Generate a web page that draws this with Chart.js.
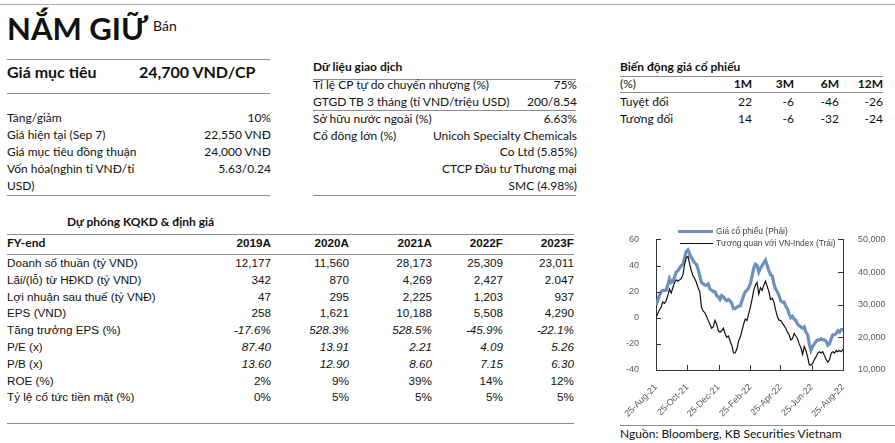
<!DOCTYPE html>
<html>
<head>
<meta charset="utf-8">
<script src="https://cdn.jsdelivr.net/npm/chart.js@4.4.0/dist/chart.umd.min.js"></script>
<style>
    body { margin: 0; width: 895px; height: 443px; position: relative; overflow: hidden; background: #fff; font-family: Lato, 'Open Sans', sans-serif; color: #111; }
    .a { position: absolute; white-space: nowrap; font-size: 12px; line-height: 16px; }
    .b { font-weight: bold; }
    .i { font-style: italic; }
    .tb { font-family: 'Liberation Sans', Arial, sans-serif; font-size: 11.7px; }
    .hr { position: absolute; height: 0; border-top: 1px solid #8c8c8c; }
    #chartBox { position: absolute; left: 620px; top: 225px; width: 275px; height: 200px; }
    .lg { position: absolute; font-family: 'Liberation Sans', Arial, sans-serif; font-size: 8.4px; color: #404040; line-height: 10px; white-space: nowrap; }
    .lgLine { position: absolute; }
</style>
</head>
<body>
<div class="hr" style="left:0;width:895px;top:4px;border-color:#aaa"></div>
<div class="a b" style="left:7px;top:12px;font-size:31px;line-height:32px;">NẮM GIỮ</div>
<div class="a" style="left:153px;top:18px;font-size:14px;">Bán</div>

<div id="chartBox"><canvas id="priceChart" width="275" height="200"></canvas></div>
<div class="lgLine" style="left:678px;top:230px;width:35px;height:3px;background:#6f8fbd"></div>
<div class="lg" style="left:716px;top:226px;">Giá cổ phiếu (Phải)</div>
<div class="lgLine" style="left:680px;top:243px;width:33px;height:1px;background:#111"></div>
<div class="lg" style="left:716px;top:238px;">Tương quan với VN-Index (Trái)</div>

<script>
// Chart data
const tickDays = [0, 61, 122, 184, 243, 304, 365];
const tickLabels = ['25-Aug-21', '25-Oct-21', '25-Dec-21', '25-Feb-22', '25-Apr-22', '25-Jun-22', '25-Aug-22'];

// Giá cổ phiếu (VND) - right axis
const sharePrice = [
    30000, 31200, 32800, 34000, 34400, 34400, 34400, 36000, 38000, 36800,
    37200, 38400, 40000, 40400, 41200, 42000, 42400, 44400, 46400, 46800,
    45600, 44400, 43600, 42800, 42400, 40800, 38800, 36800, 36400, 36000,
    36000, 36400, 34800, 34400, 34000, 34000, 32800, 32400, 31600, 32800,
    32400, 31600, 31200, 31600, 31200, 30400, 28800, 28800, 29200, 29600,
    29600, 31200, 32800, 34000, 34400, 35200, 36400, 38800, 41200, 42400,
    42000, 40000, 41200, 42000, 42800, 43600, 42000, 40400, 39200, 38800,
    36400, 34800, 34000, 32800, 31200, 30800, 30800, 29600, 28800, 27200,
    26000, 26400, 25600, 25200, 24000, 23600, 23200, 22800, 23200, 21600,
    20800, 18000, 16000, 17200, 18000, 18800, 19200, 19200, 19600, 19200,
    19200, 18800, 17600, 18000, 19600, 20800, 20800, 21200, 22000, 21600,
    22400, 22400
];

// Tương quan với VN-Index (%) - left axis
const relPerformance = [
    0, 3, 6, 8, 12, 11, 13, 17, 22, 19,
    23, 27, 29, 28, 29, 30, 33, 41, 46, 47,
    41, 36, 32, 30, 27, 23, 20, 8, 5, 4,
    1, -2, -5, -8, -7, -2, -5, -10, -11, -10,
    -8, -12, -15, -14, -18, -21, -27, -27, -24, -18,
    -15, -10, -5, -1, -2, 3, 8, 14, 21, 25,
    27, 18, 23, 21, 25, 28, 24, 20, 14, 15,
    12, 6, 1, -2, -2, -4, -6, -8, -11, -13,
    -17, -16, -12, -14, -16, -20, -23, -28, -22, -25,
    -30, -36, -36, -35, -32, -30, -27, -26, -27, -26,
    -29, -32, -34, -32, -27, -26, -27, -25, -26, -25,
    -26, -24
];

// Table texts
const summaryRows = [
    ['Tăng/giảm', '10%'],
    ['Giá hiện tại (Sep 7)', '22,550 VNĐ'],
    ['Giá mục tiêu đồng thuận', '24,000 VNĐ'],
    ['Vốn hóa(nghìn tỉ VNĐ/tỉ', '5.63/0.24'],
    ['USD)', '']
];
const tradingRows = [
    ['Tỉ lệ CP tự do chuyển nhượng (%)', '75%', 85],
    ['GTGD TB 3 tháng (tỉ VND/triệu USD)', '200/8.54', 102],
    ['Sở hữu nước ngoài (%)', '6.63%', 119],
    ['Cổ đông lớn (%)', 'Unicoh Specialty Chemicals', 136],
    ['', 'Co Ltd (5.85%)', 152],
    ['', 'CTCP Đầu tư Thương mại', 169],
    ['', 'SMC (4.98%)', 186]
];
const perfHeaders = ['1M', '3M', '6M', '12M'];
const perfRows = [
    ['Tuyệt đối', '22', '-6', '-46', '-26'],
    ['Tương đối', '14', '-6', '-32', '-24']
];
const fyYears = ['2019A', '2020A', '2021A', '2022F', '2023F'];
const fyRows = [
    ['Doanh số thuần (tỷ VND)', '12,177', '11,560', '28,173', '25,309', '23,011'],
    ['Lãi/(lỗ) từ HĐKD (tỷ VND)', '342', '870', '4,269', '2,427', '2.047'],
    ['Lợi nhuận sau thuế (tỷ VNĐ)', '47', '295', '2,225', '1,203', '937'],
    ['EPS (VND)', '258', '1,621', '10,188', '5,508', '4,290'],
    ['Tăng trưởng EPS (%)', '-17.6%', '528.3%', '528.5%', '-45.9%', '-22.1%'],
    ['P/E (x)', '87.40', '13.91', '2.21', '4.09', '5.26'],
    ['P/B (x)', '13.60', '12.90', '8.60', '7.15', '6.30'],
    ['ROE (%)', '2%', '9%', '39%', '14%', '12%'],
    ['Tỷ lệ cổ tức tiền mặt (%)', '0%', '5%', '5%', '5%', '5%']
];
const italicRows = [4, 5, 6];

// Helpers for placing text and rules
function put(x, cy, text, cls, alignRight) {
    const d = document.createElement('div');
    d.className = 'a ' + (cls || '');
    d.textContent = text;
    d.style.top = (cy - 8) + 'px';
    if (alignRight) d.style.right = (895 - x) + 'px';
    else d.style.left = x + 'px';
    document.body.appendChild(d);
    return d;
}
function rule(x1, x2, y, color) {
    const d = document.createElement('div');
    d.className = 'hr';
    d.style.left = x1 + 'px';
    d.style.width = (x2 - x1) + 'px';
    d.style.top = y + 'px';
    if (color) d.style.borderColor = color;
    document.body.appendChild(d);
}

// Left block
rule(7, 270, 59);
put(7, 72, 'Giá mục tiêu', 'b').style.fontSize = '16px';
put(139, 72, '24,700 VND/CP', 'b').style.fontSize = '16px';
rule(7, 270, 93);
summaryRows.forEach((r, i) => {
    put(7, 118 + i * 17, r[0]);
    if (r[1]) put(271, 118 + i * 17, r[1], '', true);
});
rule(7, 270, 195);

// Trading data block
put(313, 67, 'Dữ liệu giao dịch', 'b');
rule(313, 576, 79);
tradingRows.forEach(r => {
    if (r[0]) put(313, r[2], r[0]);
    put(577, r[2], r[1], '', true);
});
rule(313, 576, 110);
rule(313, 576, 195);

// Price performance block
const perfCols = [752, 794, 839, 883];
put(620, 67, 'Biến động giá cổ phiếu', 'b');
rule(620, 883, 76);
put(620, 84, '(%)');
perfHeaders.forEach((h, j) => put(perfCols[j], 84, h, 'b', true));
rule(620, 883, 92);
perfRows.forEach((r, i) => {
    put(620, 102 + i * 17, r[0]);
    r.slice(1).forEach((v, j) => put(perfCols[j], 102 + i * 17, v, '', true));
});

// Forecast table
const fyCols = [271, 349, 432, 503, 574];
put(67, 222, 'Dự phóng KQKD & định giá', 'b');
rule(7, 574, 234);
put(7, 243, 'FY-end', 'b');
fyYears.forEach((y, j) => put(fyCols[j], 243, y, 'b tb', true));
rule(7, 574, 254);
fyRows.forEach((r, i) => {
    const cy = 263 + i * 16.8;
    put(7, cy, r[0], 'tb');
    const cls = italicRows.includes(i) ? 'tb i' : 'tb';
    r.slice(1).forEach((v, j) => put(fyCols[j], cy, v, cls, true));
});
rule(7, 574, 423);

// Source line
rule(620, 895, 425);
put(620, 434, 'Nguồn: Bloomberg, KB Securities Vietnam');

// Inside tick marks plugin
const insideTicks = {
    id: 'insideTicks',
    afterDraw(chart) {
        const ctx = chart.ctx;
        const area = chart.chartArea;
        ctx.save();
        ctx.strokeStyle = '#333';
        ctx.lineWidth = 1;
        ctx.beginPath();
        chart.scales.x.ticks.forEach(t => {
            const px = Math.round(chart.scales.x.getPixelForValue(t.value)) + 0.5;
            ctx.moveTo(px, area.bottom);
            ctx.lineTo(px, area.bottom - 5);
        });
        chart.scales.y.ticks.forEach(t => {
            const py = Math.round(chart.scales.y.getPixelForValue(t.value)) + 0.5;
            ctx.moveTo(area.left, py);
            ctx.lineTo(area.left + 5, py);
        });
        chart.scales.y1.ticks.forEach(t => {
            const py = Math.round(chart.scales.y1.getPixelForValue(t.value)) + 0.5;
            ctx.moveTo(area.right, py);
            ctx.lineTo(area.right - 5, py);
        });
        ctx.stroke();
        ctx.restore();
    }
};

const dayOf = i => i * 365 / (sharePrice.length - 1);
const tickFont = { family: "'Liberation Sans', Arial, sans-serif", size: 9 };

new Chart(document.getElementById('priceChart'), {
    type: 'line',
    data: {
        datasets: [
            {
                label: 'Tương quan với VN-Index (Trái)',
                data: relPerformance.map((v, i) => ({ x: dayOf(i), y: v })),
                yAxisID: 'y',
                borderColor: '#111',
                borderWidth: 1.2,
                pointRadius: 0,
                order: 0
            },
            {
                label: 'Giá cổ phiếu (Phải)',
                data: sharePrice.map((v, i) => ({ x: dayOf(i), y: v })),
                yAxisID: 'y1',
                borderColor: '#6f8fbd',
                borderWidth: 3.2,
                pointRadius: 0,
                order: 1
            }
        ]
    },
    options: {
        responsive: false,
        animation: false,
        devicePixelRatio: 1,
        layout: { padding: { top: 13, left: 0, right: 0, bottom: 0 } },
        plugins: { legend: { display: false }, tooltip: { enabled: false } },
        scales: {
            x: {
                type: 'linear',
                min: 0,
                max: 365,
                afterBuildTicks: s => { s.ticks = tickDays.map(v => ({ value: v })); },
                afterFit: s => { s.height = 55; },
                grid: { display: false },
                border: { color: '#333' },
                ticks: {
                    autoSkip: false,
                    maxRotation: 45,
                    minRotation: 45,
                    padding: 4,
                    color: '#595959',
                    font: tickFont,
                    callback: v => tickLabels[tickDays.indexOf(v)]
                }
            },
            y: {
                position: 'left',
                min: -40,
                max: 60,
                afterFit: s => { s.width = 36; },
                grid: { display: false },
                border: { color: '#333' },
                ticks: { stepSize: 20, padding: 9, color: '#595959', font: tickFont }
            },
            y1: {
                position: 'right',
                min: 10000,
                max: 50000,
                afterFit: s => { s.width = 52; },
                grid: { display: false },
                border: { color: '#333' },
                ticks: {
                    stepSize: 10000,
                    padding: 7,
                    color: '#595959',
                    font: tickFont,
                    callback: v => v.toLocaleString('en-US')
                }
            }
        }
    },
    plugins: [insideTicks]
});
</script>
</body>
</html>
